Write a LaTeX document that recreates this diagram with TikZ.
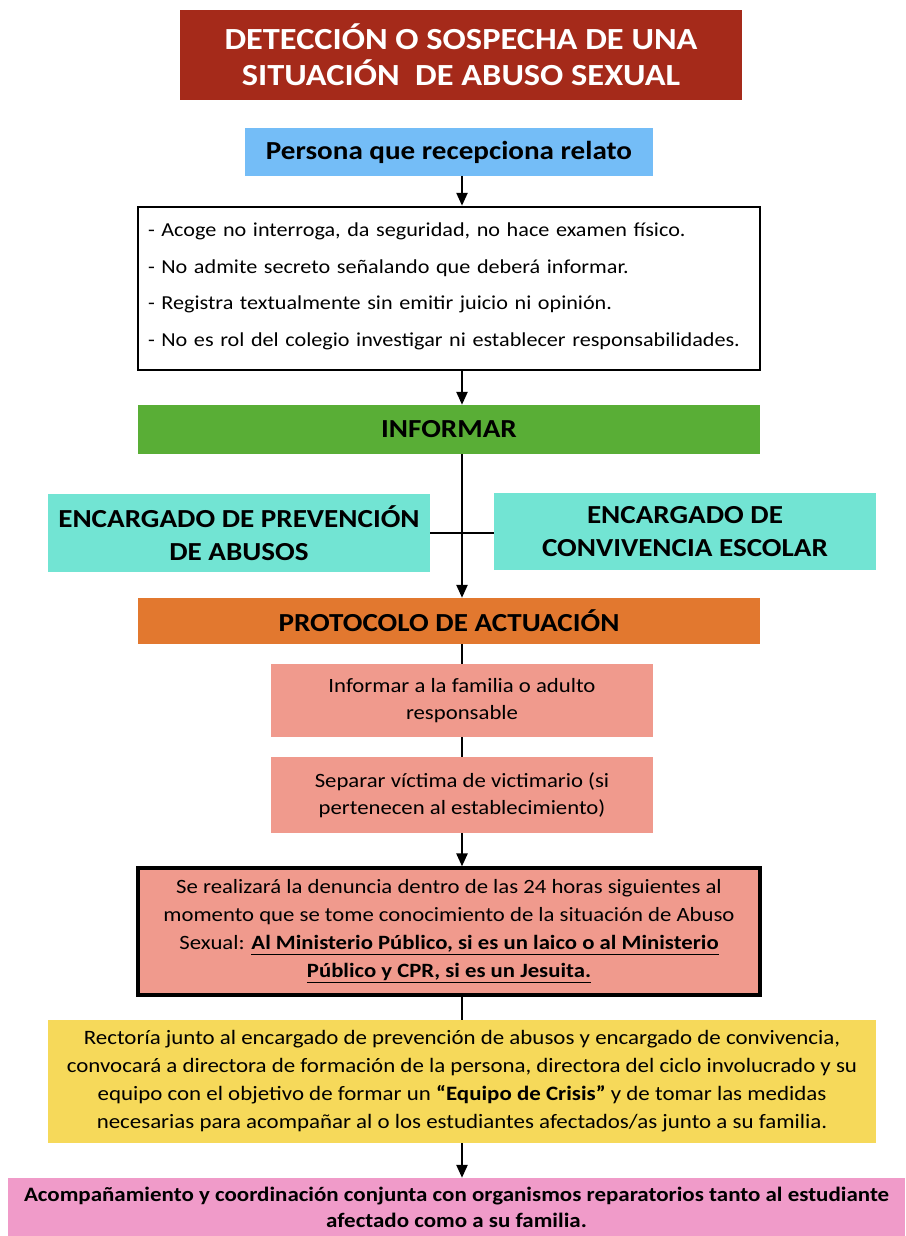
\documentclass[tikz,border=0pt]{standalone}
\usepackage{fontspec}
\setmainfont{Carlito}[FakeStretch=1.12]
\usetikzlibrary{arrows.meta,calc}
\definecolor{cTitle}{HTML}{A52A1A}
\definecolor{cBlue}{HTML}{74BDF7}
\definecolor{cGreen}{HTML}{59AE36}
\definecolor{cTurq}{HTML}{72E4D3}
\definecolor{cOrange}{HTML}{E2782F}
\definecolor{cSalmon}{HTML}{F09A8D}
\definecolor{cYellow}{HTML}{F6D95A}
\definecolor{cPink}{HTML}{F09BC9}
\begin{document}
\begin{tikzpicture}[x=1pt,y=-1pt,
  box/.style={rectangle, inner sep=0pt, align=center, text=black},
  conn/.style={line width=2.4pt, draw=black},
  arr/.style={conn, -{Triangle[width=11pt,length=13pt]}}]
\useasboundingbox (0,0) rectangle (905,1236);
\fill[white] (0,0) rectangle (905,1236);

\node[box, fill=cTitle, text=white, minimum width=562pt, minimum height=90pt,
  font=\fontsize{30.7}{36}\selectfont\bfseries] (title) at (461,55)
  {DETECCIÓN O SOSPECHA DE UNA\\SITUACIÓN\ \ DE ABUSO SEXUAL};

\node[box, fill=cBlue, minimum width=408pt, minimum height=48pt,
  font=\fontsize{26}{28}\selectfont\bfseries] (persona) at (449,152)
  {Persona que recepciona relato};

\node[box, fill=white, draw=black, line width=2.5pt, minimum width=622pt, minimum height=163pt,
  align=left, text width=602pt, font=\fontsize{19.8}{36.7}\selectfont] (acoge) at (449,288.5)
  {- Acoge no interroga, da seguridad, no hace examen físico.\\
   - No admite secreto señalando que deberá informar.\\
   - Registra textualmente sin emitir juicio ni opinión.\\
   - No es rol del colegio investigar ni establecer responsabilidades.\\[-29pt]\mbox{}};

\node[box, fill=cGreen, minimum width=622pt, minimum height=49pt,
  font=\fontsize{26}{28}\selectfont\bfseries] (informar) at (449,429.5) {INFORMAR};

\node[box, fill=cTurq, minimum width=382pt, minimum height=78pt,
  font=\fontsize{26}{33}\selectfont\bfseries] (encL) at (239,533)
  {ENCARGADO DE PREVENCIÓN\\DE ABUSOS};
\node[box, fill=cTurq, minimum width=382pt, minimum height=77pt,
  font=\fontsize{26}{33}\selectfont\bfseries] (encR) at (685,531.5)
  {ENCARGADO DE\\CONVIVENCIA ESCOLAR};

\node[box, fill=cOrange, minimum width=622pt, minimum height=46pt,
  font=\fontsize{26}{28}\selectfont\bfseries] (protocolo) at (449,621)
  {PROTOCOLO DE ACTUACIÓN};

\node[box, fill=cSalmon, minimum width=382pt, minimum height=73pt,
  font=\fontsize{20.3}{27}\selectfont] (fam) at (462,700.5)
  {Informar a la familia o adulto\\responsable};
\node[box, fill=cSalmon, minimum width=382pt, minimum height=76pt,
  font=\fontsize{20.3}{27}\selectfont] (sep) at (462,795)
  {Separar víctima de victimario (si\\pertenecen al establecimiento)};

\node[box, fill=cSalmon, draw=black, line width=3.2pt, minimum width=622pt, minimum height=127pt,
  font=\fontsize{20.3}{28}\selectfont] (denuncia) at (449,931.5)
  {Se realizará la denuncia dentro de las 24 horas siguientes al\\
   momento que se tome conocimiento de la situación de Abuso\\
   Sexual: \underline{\textbf{Al Ministerio Público, si es un laico o al Ministerio}}\\
   \underline{\textbf{Público y CPR, si es un Jesuita.}}};

\node[box, fill=cYellow, minimum width=828pt, minimum height=123pt,
  font=\fontsize{20.45}{28}\selectfont] (rectoria) at (462,1081.5)
  {Rectoría junto al encargado de prevención de abusos y encargado de convivencia,\\
   convocará a directora de formación de la persona, directora del ciclo involucrado y su\\
   equipo con el objetivo de formar un \textbf{“Equipo de Crisis”} y de tomar las medidas\\
   necesarias para acompañar al o los estudiantes afectados/as junto a su familia.};

\node[box, fill=cPink, minimum width=897pt, minimum height=58pt,
  font=\fontsize{20.5}{26}\selectfont\bfseries] (acomp) at (456.5,1207)
  {Acompañamiento y coordinación conjunta con organismos reparatorios tanto al estudiante\\
   afectado como a su familia.};

\coordinate (sp) at (462,0);
\draw[arr] (persona.south -| sp) -- (acoge.north -| sp);
\draw[arr] (acoge.south -| sp) -- (informar.north -| sp);
\draw[arr] (informar.south -| sp) -- (protocolo.north -| sp);
\draw[conn] (encL.east) -- (encL.east -| encR.west);
\draw[conn] (protocolo.south -| sp) -- (fam.north);
\draw[conn] (fam.south) -- (sep.north);
\draw[arr] (sep.south) -- (denuncia.north -| sp);
\draw[conn] (denuncia.south -| sp) -- (rectoria.north);
\draw[arr] (rectoria.south) -- (acomp.north -| sp);
\end{tikzpicture}
\end{document}
